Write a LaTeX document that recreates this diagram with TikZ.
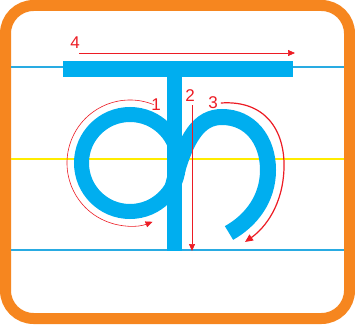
\documentclass[tikz,border=0pt]{standalone}
\usepackage{fontspec}
\setmainfont{Liberation Sans}
\usepackage{tikz}
\usetikzlibrary{arrows.meta}
\definecolor{frame}{RGB}{246,134,31}
\definecolor{ink}{RGB}{0,174,239}
\definecolor{rule}{RGB}{41,171,226}
\definecolor{mid}{RGB}{255,236,0}
\definecolor{tracered}{RGB}{237,28,36}

\begin{document}
\begin{tikzpicture}[
  x=1pt, y=1pt,
  guide/.style={line width=1.6pt},
  letter/.style={ink, line width=15pt},
  trace/.style={draw=tracered, line width=0.6pt, -{Triangle[length=7pt,width=6pt]}},
  num/.style={text=tracered, font=\fontsize{17}{17}\selectfont, inner sep=0pt},
]
\useasboundingbox (0,0) rectangle (355,324);

% frame and guide lines
\draw[frame, line width=11pt, rounded corners=28pt, fill=white] (5.5,5.5) rectangle (349.5,318.5);
\draw[guide, rule] (11,257) -- (344,257);
\draw[guide, mid] (11,165) -- (344,165);
\draw[guide, rule] (11,74) -- (344,74);

% the letter
\fill[ink] (63,247) rectangle (293,263);
\fill[ink] (167,73) rectangle (182,247);
\draw[letter] (130,161) circle (48.5);
\draw[letter, line width=16pt] (172,134) .. controls (185,189) and (200,207) .. (222,207)
  .. controls (250,207) and (268,184) .. (268,154)
  .. controls (268,126) and (252,104) .. (229,91);

% stroke order
\node[num] (n1) at (156,219) {1};
\node[num] (n2) at (190,228) {2};
\node[num] (n3) at (213,221) {3};
\node[num] (n4) at (75,281) {4};
\coordinate (e2) at (192,73);
\coordinate (e4) at (295,271);

\draw[trace] (130,161) ++(68:63) arc (68:291:63);
\draw[trace] (n2.south -| e2) ++(0,-3) -- (e2);
\draw[trace, line width=1.2pt, -{Triangle[length=8pt,width=7pt]}] (n3.east) ++(3,0)
  .. controls (265,224) and (285,194) .. (284,156)
  .. controls (283,119) and (265,96) .. (245,82);
\draw[trace] (79,271) -- (e4);
\end{tikzpicture}
\end{document}
